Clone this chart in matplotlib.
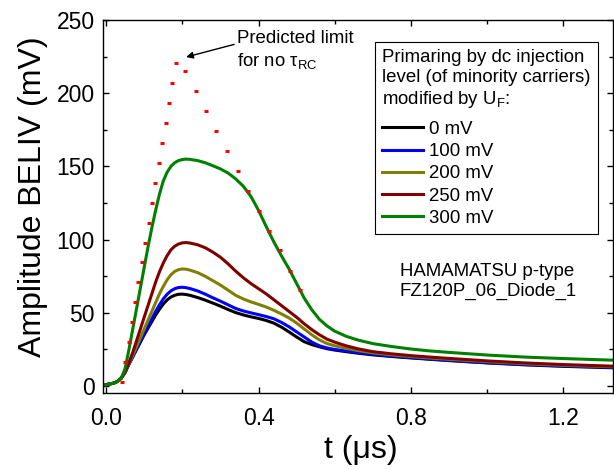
import numpy as np
import matplotlib
matplotlib.use("Agg")
import matplotlib.pyplot as plt

plt.rcParams['font.family'] = ['Liberation Sans', 'DejaVu Sans']
plt.rcParams['mathtext.fontset'] = 'custom'
plt.rcParams['mathtext.rm'] = 'Liberation Sans'
plt.rcParams['mathtext.it'] = 'Liberation Sans:italic'

# BELIV transients (time in us, amplitude in mV)
t = [0.00, 0.02, 0.03, 0.04, 0.05, 0.06, 0.07, 0.08, 0.09, 0.10, 0.11, 0.12,
     0.13, 0.14, 0.15, 0.16, 0.17, 0.18, 0.19, 0.20, 0.21, 0.22, 0.24, 0.26,
     0.28, 0.30, 0.32, 0.34, 0.36, 0.38, 0.40, 0.42, 0.44, 0.46, 0.48, 0.50,
     0.52, 0.54, 0.56, 0.58, 0.60, 0.63, 0.66, 0.70, 0.75, 0.80, 0.85, 0.90,
     1.00, 1.10, 1.20, 1.33]

u_0mv = [1.0, 2.0, 3.2, 5.5, 9.5, 15.0, 20.0, 25.0, 30.0, 35.0, 39.5, 44.0,
         48.5, 52.5, 56.0, 58.8, 60.8, 62.0, 62.7, 62.8, 62.5, 62.0, 60.5, 58.7,
         56.7, 54.6, 52.3, 50.2, 48.6, 47.3, 46.2, 44.8, 43.0, 40.3, 37.0, 33.5,
         30.3, 28.3, 26.8, 25.5, 24.6, 23.5, 22.5, 21.3, 20.2, 19.2, 18.3, 17.4,
         15.8, 14.5, 13.5, 12.5]
u_100mv = [1.0, 2.0, 3.2, 5.5, 9.5, 15.0, 20.0, 25.5, 30.5, 36.0, 41.0, 46.0,
           51.0, 55.5, 59.5, 62.7, 65.0, 66.5, 67.3, 67.5, 67.2, 66.6, 65.0, 62.8,
           60.3, 58.0, 55.5, 53.0, 51.3, 50.0, 48.8, 47.5, 46.0, 43.5, 40.5, 37.0,
           33.5, 30.0, 27.5, 26.0, 25.0, 24.0, 23.0, 21.7, 20.5, 19.5, 18.5, 17.6,
           16.0, 14.7, 13.7, 12.8]
u_200mv = [1.0, 2.0, 3.2, 5.5, 9.5, 15.5, 21.0, 27.0, 33.0, 39.0, 45.0, 51.0,
           57.0, 63.0, 68.0, 72.5, 76.0, 78.3, 79.5, 80.0, 79.8, 79.2, 77.5, 75.0,
           72.0, 69.0, 65.5, 62.0, 59.5, 57.5, 55.8, 54.0, 51.8, 49.3, 46.5, 43.0,
           39.0, 35.0, 31.5, 29.0, 27.5, 25.8, 24.3, 22.7, 21.3, 20.2, 19.2, 18.3,
           16.7, 15.3, 14.2, 13.2]
u_250mv = [1.0, 2.0, 3.2, 5.5, 9.5, 16.0, 23.0, 31.0, 39.0, 47.0, 55.0, 63.0,
           71.0, 78.0, 84.0, 89.0, 93.0, 95.5, 97.0, 97.8, 98.0, 97.7, 96.5, 94.5,
           91.5, 88.0, 83.5, 78.5, 74.0, 70.0, 66.5, 63.0, 59.0, 55.0, 51.0, 47.0,
           42.5, 38.5, 35.0, 32.0, 30.0, 27.5, 25.5, 23.5, 22.0, 20.8, 19.8, 18.9,
           17.2, 15.8, 14.7, 13.6]
u_300mv = [1.0, 2.0, 3.2, 5.5, 12.0, 25.0, 39.0, 53.0, 67.0, 81.0, 95.0, 108.0,
           120.0, 131.0, 140.0, 146.0, 150.0, 152.5, 154.0, 154.7, 155.0, 154.8, 154.0, 152.5,
           150.5, 148.3, 145.5, 141.5, 136.5, 129.5, 120.0, 109.0, 98.5, 89.0, 80.0, 70.0,
           60.0, 52.0, 45.5, 41.0, 37.5, 34.0, 31.5, 29.0, 27.0, 25.3, 24.0, 23.0,
           21.2, 19.8, 18.8, 17.7]

# predicted limit without RC time constant
t_pred = [0.041, 0.050, 0.059, 0.067, 0.076, 0.085, 0.094, 0.102, 0.112, 0.121,
          0.129, 0.138, 0.147, 0.156, 0.164, 0.173, 0.184, 0.207, 0.235, 0.262,
          0.289, 0.317, 0.345, 0.372, 0.400, 0.428, 0.455, 0.483, 0.510]
u_pred = [3.0, 16.6, 30.2, 43.7, 57.5, 70.9, 84.4, 98.0, 111.6, 125.3,
          139.0, 152.6, 166.2, 179.9, 193.3, 206.7, 220.3, 214.9, 201.2, 187.8,
          174.1, 160.5, 146.9, 133.2, 119.8, 106.2, 92.6, 78.9, 65.5]

labels = ['0 mV', '100 mV', '200 mV', '250 mV', '300 mV']
colors = ['black', '#0000ff', '#808000', '#800000', '#008000']

fig = plt.figure(figsize=(6.14, 4.70), dpi=100)
ax = fig.add_axes([0.1678, 0.1645, 0.830, 0.793])

for u, lab, c in zip([u_0mv, u_100mv, u_200mv, u_250mv, u_300mv], labels, colors):
    ax.plot(t, u, color=c, lw=2.2, label=lab)

ax.plot(t_pred, u_pred, ls='none', marker='_', ms=3.5, mew=2.2, color='#ff0000')

ax.set_xlim(-0.008, 1.329)
ax.set_ylim(-4.5, 250)
ax.set_xticks([0.0, 0.4, 0.8, 1.2])
ax.set_xticks([0.2, 0.6, 1.0], minor=True)
ax.set_yticks([0, 50, 100, 150, 200, 250])
ax.set_yticks([25, 75, 125, 175, 225], minor=True)
ax.tick_params(which='both', direction='in', top=True, right=True, labelsize=16.5, width=1)
ax.tick_params(which='major', length=4.5)
ax.tick_params(which='minor', length=3)
ax.tick_params(axis='x', pad=10)
ax.tick_params(axis='y', pad=6)
for s in ax.spines.values():
    s.set_linewidth(1.0)

ax.set_xlabel('t (μs)', fontsize=23)
ax.set_ylabel('Amplitude BELIV (mV)', fontsize=23)
ax.xaxis.set_label_coords(0.506, -0.114)
ax.yaxis.set_label_coords(-0.108, 0.526)

ax.annotate('', xy=(0.203, 224.2), xytext=(0.343, 233.8),
            arrowprops=dict(arrowstyle='-|>', color='black', lw=1, mutation_scale=10))
ax.text(0.344, 237.4, 'Predicted limit', fontsize=13.4, va='center', ha='left')
ax.text(0.344, 221.7, 'for no τ$_{\\mathrm{RC}}$', fontsize=13.4, va='center', ha='left')
ax.text(0.771, 71.3, 'HAMAMATSU p-type\nFZ120P_06_Diode_1', fontsize=13.4,
        va='center', ha='left', linespacing=1.2)

leg = ax.legend(title='Primaring by dc injection\nlevel (of minority carriers)\nmodified by U$_{\\mathrm{F}}$:',
                loc='upper right', bbox_to_anchor=(598.3 / 614, 1 - 41.7 / 470),
                bbox_transform=fig.transFigure, borderaxespad=0, fancybox=False,
                edgecolor='black', framealpha=1, fontsize=13.4, title_fontsize=13.4,
                handlelength=2.2, handletextpad=0.3, borderpad=0.4, labelspacing=0.28,
                alignment='left')
leg.get_frame().set_linewidth(0.8)
# extra gap between the title block and the entries
leg._legend_box.sep = 8

fig.savefig('out.png', dpi=100)
